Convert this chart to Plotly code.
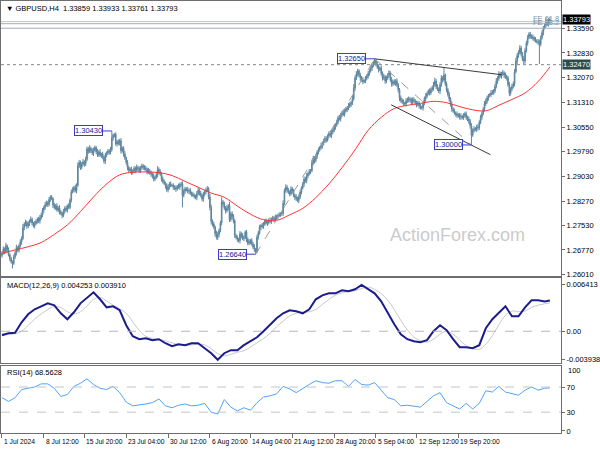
import plotly.graph_objects as go

# ---------------- data (prices in pips: price = 1 + pips/10000) ----------------
x_tick_labels = ["1 Jul 2024", "8 Jul 12:00", "15 Jul 20:00", "23 Jul 04:00", "30 Jul 12:00",
                 "6 Aug 20:00", "14 Aug 04:00", "21 Aug 12:00", "28 Aug 20:00", "5 Sep 04:00",
                 "12 Sep 12:00", "19 Sep 20:00"]
x_tick_bars = [0, 32, 63, 95, 127, 159, 190, 222, 254, 286, 317, 349]
price_ticks = [1.33590, 1.32830, 1.32070, 1.31310, 1.30550, 1.29790, 1.29030, 1.28270,
               1.27530, 1.26770, 1.26010]
rsi_ticks = [100, 70, 30, 0]

first_open_pips = 2660
close_pips = [
    2668, 2680, 2672, 2690, 2678, 2662, 2650, 2641, 2635, 2655,
    2668, 2684, 2676, 2690, 2702, 2712, 2745, 2756, 2762, 2750,
    2758, 2766, 2771, 2760, 2752, 2758, 2765, 2772, 2766, 2776,
    2784, 2800, 2808, 2816, 2822, 2817, 2832, 2840, 2835, 2815,
    2808, 2813, 2800, 2806, 2795, 2790, 2783, 2796, 2805, 2800,
    2812, 2808, 2830, 2856, 2862, 2869, 2860, 2876, 2936, 2946,
    2931, 2941, 2948, 2942, 2956, 2988, 2980, 2990, 2982, 2975,
    2985, 2992, 2980, 2970, 2978, 2968, 2972, 2962, 2950, 2968,
    2975, 2981, 2978, 2986, 3022, 3030, 3033, 3003, 3010, 3005,
    3013, 2982, 2990, 2972, 2960, 2946, 2931, 2921, 2925, 2916,
    2920, 2928, 2922, 2931, 2926, 2921, 2930, 2936, 2932, 2928,
    2926, 2916, 2920, 2914, 2911, 2905, 2895, 2900, 2908, 2925,
    2918, 2911, 2895, 2888, 2882, 2875, 2862, 2870, 2880, 2876,
    2875, 2870, 2868, 2865, 2872, 2870, 2878, 2880, 2845, 2858,
    2865, 2862, 2858, 2860, 2852, 2849, 2845, 2842, 2839, 2850,
    2860, 2852, 2845, 2834, 2848, 2856, 2862, 2865, 2840, 2808,
    2765, 2757, 2747, 2727, 2716, 2725, 2737, 2760, 2825, 2818,
    2805, 2798, 2806, 2813, 2770, 2788, 2780, 2767, 2721, 2715,
    2710, 2706, 2727, 2720, 2712, 2716, 2732, 2710, 2698, 2702,
    2706, 2695, 2686, 2678, 2672, 2716, 2730, 2747, 2752, 2750,
    2757, 2767, 2760, 2762, 2768, 2765, 2772, 2775, 2770, 2778,
    2780, 2783, 2786, 2788, 2790, 2820, 2860, 2870, 2862, 2855,
    2849, 2865, 2858, 2845, 2839, 2835, 2829, 2840, 2855, 2868,
    2880, 2895, 2890, 2905, 2912, 2918, 2921, 2945, 2960, 2952,
    2965, 2978, 2985, 2992, 2998, 3005, 3012, 3020, 3015, 3028,
    3035, 3030, 3040, 3044, 3055, 3062, 3070, 3084, 3080, 3092,
    3099, 3095, 3105, 3110, 3114, 3120, 3125, 3130, 3142, 3175,
    3206, 3218, 3228, 3215, 3206, 3200, 3195, 3197, 3205, 3212,
    3220, 3228, 3237, 3245, 3255, 3262, 3250, 3240, 3232, 3237,
    3220, 3206, 3210, 3197, 3205, 3215, 3222, 3200, 3188, 3195,
    3190, 3197, 3185, 3170, 3145, 3138, 3132, 3128, 3126, 3135,
    3140, 3142, 3138, 3130, 3140, 3136, 3130, 3125, 3128, 3120,
    3116, 3114, 3128, 3142, 3150, 3158, 3166, 3160, 3170, 3176,
    3185, 3197, 3180, 3172, 3166, 3185, 3206, 3200, 3215, 3188,
    3170, 3155, 3142, 3125, 3110, 3105, 3098, 3095, 3090, 3092,
    3086, 3088, 3084, 3090, 3096, 3085, 3080, 3074, 3060, 3030,
    3045, 3050, 3048, 3055, 3053, 3070, 3085, 3096, 3110, 3126,
    3135, 3145, 3151, 3155, 3160, 3162, 3166, 3180, 3197, 3205,
    3219, 3212, 3218, 3222, 3215, 3210, 3206, 3185, 3160, 3172,
    3180, 3188, 3225, 3258, 3275, 3285, 3298, 3280, 3265, 3258,
    3290, 3313, 3330, 3341, 3335, 3332, 3329, 3325, 3320, 3318,
    3315, 3310, 3330, 3345, 3360, 3368, 3381, 3372, 3386, 3379,
]
wick_up_pips = [
    6, 8, 5, 9, 4, 7, 5, 6, 4, 8, 7, 9, 5, 6, 8, 7, 12, 6, 8, 5,
    7, 5, 9, 6, 4, 8, 6, 5, 7, 9, 8, 6, 5, 9, 7, 6, 8, 5, 6, 4,
    7, 5, 8, 6, 9, 5, 4, 7, 6, 8, 5, 9, 6, 7, 8, 5, 9, 6, 10, 8,
    6, 7, 9, 5, 8, 7, 6, 9, 5, 8, 7, 6, 5, 8, 6, 9, 4, 7, 6, 8,
    5, 7, 6, 8, 21, 5, 3, 6, 5, 7, 6, 8, 5, 6, 9, 4, 7, 5, 6, 8,
    5, 7, 6, 9, 5, 8, 6, 7, 5, 6, 8, 5, 9, 6, 7, 5, 8, 6, 9, 10,
    6, 7, 5, 8, 6, 5, 7, 9, 6, 8, 5, 7, 6, 8, 5, 9, 6, 7, 8, 6,
    7, 5, 9, 6, 8, 5, 7, 6, 5, 8, 9, 6, 7, 5, 8, 6, 7, 9, 6, 10,
    8, 6, 7, 5, 9, 8, 6, 7, 14, 6, 8, 7, 9, 5, 12, 6, 8, 7, 5, 6,
    7, 5, 8, 6, 9, 6, 5, 7, 6, 8, 5, 7, 6, 9, 5, 8, 6, 7, 5, 8,
    6, 5, 7, 8, 6, 9, 5, 7, 6, 8, 5, 6, 7, 5, 8, 10, 6, 9, 7, 6,
    5, 8, 6, 7, 5, 9, 6, 8, 7, 5, 6, 8, 7, 9, 6, 8, 5, 10, 7, 6,
    8, 6, 7, 5, 9, 6, 7, 8, 6, 5, 7, 9, 6, 8, 7, 5, 8, 6, 9, 7,
    6, 8, 5, 7, 6, 9, 8, 6, 10, 12, 8, 9, 6, 5, 7, 6, 8, 5, 7, 6,
    8, 6, 7, 5, 4, 3, 2, 6, 8, 5, 7, 6, 9, 5, 8, 6, 7, 5, 9, 6,
    7, 5, 8, 6, 5, 7, 6, 8, 5, 9, 6, 7, 5, 8, 6, 7, 5, 6, 8, 7,
    6, 5, 8, 7, 9, 6, 5, 8, 7, 6, 9, 10, 6, 7, 5, 8, 9, 6, 25, 5,
    7, 6, 8, 5, 9, 6, 7, 5, 8, 6, 7, 9, 5, 8, 6, 7, 5, 8, 6, 7,
    6, 8, 5, 7, 9, 6, 8, 7, 6, 9, 8, 7, 6, 5, 9, 7, 6, 8, 9, 7,
    8, 6, 7, 9, 5, 8, 6, 7, 9, 6, 8, 7, 9, 10, 8, 6, 9, 7, 6, 8,
    9, 7, 8, 6, 7, 5, 8, 6, 7, 5, 8, 9, 7, 8, 6, 7, 10, 6, 5, 7,
]
wick_dn_pips = [
    7, 5, 8, 6, 9, 5, 7, 6, 15, 4, 6, 8, 5, 7, 6, 9, 5, 7, 6, 8,
    6, 7, 5, 8, 6, 9, 5, 7, 6, 8, 5, 6, 9, 7, 5, 8, 6, 7, 5, 9,
    6, 8, 5, 7, 9, 6, 8, 5, 7, 6, 8, 5, 6, 7, 5, 8, 6, 9, 5, 7,
    8, 6, 5, 9, 7, 6, 8, 5, 7, 6, 9, 5, 8, 7, 6, 5, 8, 6, 7, 9,
    6, 5, 8, 7, 6, 9, 7, 5, 8, 6, 7, 9, 5, 8, 6, 7, 9, 6, 5, 8,
    7, 6, 9, 5, 8, 6, 7, 5, 9, 6, 8, 7, 5, 6, 9, 8, 7, 6, 5, 8,
    9, 6, 8, 7, 5, 9, 6, 8, 7, 6, 5, 8, 7, 9, 6, 5, 8, 7, 37, 6,
    8, 5, 7, 9, 6, 8, 5, 7, 6, 9, 5, 8, 6, 7, 9, 6, 8, 5, 7, 9,
    10, 8, 6, 9, 7, 8, 9, 6, 7, 8, 5, 9, 6, 8, 7, 6, 9, 8, 7, 6,
    8, 6, 9, 7, 5, 8, 6, 9, 7, 6, 8, 5, 6, 7, 8, 5, 7, 6, 9, 7,
    8, 6, 5, 9, 7, 6, 8, 5, 7, 6, 9, 8, 5, 7, 6, 8, 5, 7, 9, 6,
    7, 5, 8, 6, 9, 7, 5, 8, 6, 7, 5, 9, 6, 8, 7, 6, 8, 5, 7, 9,
    6, 8, 7, 5, 6, 9, 7, 6, 8, 5, 7, 6, 9, 7, 5, 8, 6, 7, 5, 8,
    7, 6, 8, 5, 9, 7, 6, 8, 7, 5, 9, 6, 8, 7, 9, 6, 8, 5, 7, 6,
    8, 7, 5, 9, 6, 7, 8, 6, 9, 5, 7, 8, 6, 9, 7, 5, 8, 6, 9, 7,
    6, 8, 7, 9, 10, 8, 6, 7, 5, 8, 6, 9, 7, 5, 8, 6, 7, 9, 6, 8,
    7, 5, 8, 6, 9, 7, 5, 8, 6, 7, 9, 5, 8, 6, 7, 9, 6, 8, 5, 7,
    8, 6, 9, 7, 8, 6, 5, 8, 7, 6, 8, 9, 5, 7, 6, 8, 7, 9, 10, 30,
    5, 7, 6, 8, 9, 7, 6, 8, 5, 7, 6, 8, 9, 5, 7, 6, 8, 7, 6, 9,
    7, 6, 8, 5, 9, 7, 8, 6, 10, 8, 7, 6, 8, 5, 9, 7, 6, 8, 7, 9,
    8, 6, 7, 5, 9, 6, 8, 7, 5, 6, 8, 61, 7, 6, 8, 5, 7, 6, 8, 3,
]

# moving average (red), read every 10 bars
ma_bars = list(range(0, 420, 10)) + [419]
ma_pips = [2667, 2677, 2687, 2700, 2725, 2754, 2795, 2840, 2880, 2908, 2916, 2917, 2915,
           2906, 2888, 2870, 2852, 2839, 2812, 2787, 2770, 2768, 2785, 2805, 2838, 2880,
           2930, 2985, 3045, 3085, 3112, 3122, 3128, 3134, 3130, 3118, 3108, 3105, 3122,
           3140, 3160, 3195, 3240]

# indicators, read every 5 bars
ind_bars = list(range(0, 420, 5)) + [419]
macd_vals = [-0.00055, -0.00028, -0.00020, 0.00124, 0.00235, 0.00304, 0.00345, 0.00386, 0.00359, 0.00248,
             0.00166, 0.00262, 0.00386, 0.00469, 0.00538, 0.00442, 0.00331, 0.00345, 0.00290, 0.00083,
             -0.00069, -0.00110, -0.00097, -0.00124, -0.00110, -0.00166, -0.00207, -0.00179, -0.00193, -0.00166,
             -0.00166, -0.00235, -0.00304, -0.00394, -0.00304, -0.00262, -0.00262, -0.00193, -0.00138, -0.00083,
             0.00000, 0.00097, 0.00179, 0.00248, 0.00290, 0.00276, 0.00248, 0.00304, 0.00442, 0.00497,
             0.00524, 0.00524, 0.00566, 0.00552, 0.00580, 0.00641, 0.00580, 0.00524, 0.00414, 0.00248,
             0.00097, -0.00041, -0.00110, -0.00138, -0.00152, -0.00124, 0.00000, 0.00083, 0.00014, -0.00110,
             -0.00221, -0.00221, -0.00235, -0.00193, 0.00041, 0.00166, 0.00262, 0.00345, 0.00207, 0.00207,
             0.00331, 0.00428, 0.00428, 0.00410, 0.004253]
signal_vals = [-0.00030, -0.00040, -0.00035, 0.00000, 0.00080, 0.00170, 0.00240, 0.00300, 0.00340, 0.00330,
               0.00270, 0.00240, 0.00270, 0.00350, 0.00440, 0.00470, 0.00420, 0.00360, 0.00310, 0.00250,
               0.00130, 0.00010, -0.00070, -0.00100, -0.00115, -0.00130, -0.00160, -0.00185, -0.00190, -0.00190,
               -0.00180, -0.00190, -0.00240, -0.00310, -0.00340, -0.00320, -0.00290, -0.00270, -0.00220, -0.00160,
               -0.00100, -0.00030, 0.00060, 0.00140, 0.00210, 0.00250, 0.00265, 0.00270, 0.00300, 0.00370,
               0.00440, 0.00500, 0.00530, 0.00550, 0.00560, 0.00590, 0.00610, 0.00580, 0.00520, 0.00430,
               0.00300, 0.00150, 0.00020, -0.00080, -0.00130, -0.00150, -0.00110, -0.00040, 0.00000, -0.00040,
               -0.00120, -0.00200, -0.00240, -0.00250, -0.00180, -0.00060, 0.00090, 0.00220, 0.00280, 0.00270,
               0.00280, 0.00330, 0.00360, 0.00380, 0.00391]
rsi_vals = [53, 47, 53, 66, 68, 70, 75, 75, 68, 55,
            58, 71, 76, 83, 74, 68, 66, 71, 61, 46,
            40, 41, 43, 45, 51, 40, 37, 41, 43, 40,
            41, 44, 30, 27, 50, 38, 32, 37, 33, 45,
            54, 56, 59, 71, 67, 61, 68, 74, 80, 77,
            76, 80, 80, 71, 82, 74, 73, 77, 65, 53,
            50, 40, 41, 40, 38, 47, 56, 61, 45, 40,
            35, 44, 35, 44, 64, 62, 71, 62, 59, 57,
            65, 70, 65, 68, 68.5628]

# swing labels (bar, price) and drawn lines
swing_labels = [(84, 1.30430), (194, 1.26640), (285, 1.32650), (359, 1.30000)]
trend_lines = [(285, 1.32650, 382, 1.32160), (297.6, 1.31235, 373.6, 1.29700)]
fibo_lines = [(194, 1.26640, 285, 1.32650), (285, 1.32650, 359, 1.30000)]
bid_price = 1.33793
fe_levels = [("FE 61.8", 1.33730), ("FE 38.2", 1.33590)]
support_level = 1.32470
title_text = "▼ GBPUSD,H4  1.33859 1.33933 1.33761 1.33793"
macd_text = "MACD(12,26,9) 0.004253 0.003910"
rsi_text = "RSI(14) 68.5628"

# ---------------- build ----------------
closes = [1 + v / 10000 for v in close_pips]
opens = [1 + first_open_pips / 10000] + closes[:-1]
highs = [max(o, c) + u / 10000 for o, c, u in zip(opens, closes, wick_up_pips)]
lows = [min(o, c) - d / 10000 for o, c, d in zip(opens, closes, wick_dn_pips)]
bars = list(range(len(closes)))
ma = [1 + v / 10000 for v in ma_pips]

FONT = "Liberation Sans, Arial, sans-serif"
CANDLE = "#5d86a0"
FRAME = "#6e6e6e"

xr = [-0.76, 427.5]

fig = go.Figure()
fig.add_trace(go.Candlestick(
    x=bars, open=opens, high=highs, low=lows, close=closes,
    increasing=dict(line=dict(color=CANDLE, width=1), fillcolor=CANDLE),
    decreasing=dict(line=dict(color=CANDLE, width=1), fillcolor=CANDLE),
    whiskerwidth=0, xaxis="x", yaxis="y", hoverinfo="skip"))
fig.add_trace(go.Scatter(x=ma_bars, y=ma, mode="lines", line=dict(color="#ff3333", width=1, shape="spline"),
                         xaxis="x", yaxis="y", hoverinfo="skip"))
fig.add_trace(go.Scatter(x=ind_bars, y=signal_vals, mode="lines", line=dict(color="#c8c8c8", width=1, shape="spline"),
                         xaxis="x2", yaxis="y2", hoverinfo="skip"))
fig.add_trace(go.Scatter(x=ind_bars, y=macd_vals, mode="lines", line=dict(color="#1c1c8e", width=2),
                         xaxis="x2", yaxis="y2", hoverinfo="skip"))
fig.add_trace(go.Scatter(x=ind_bars, y=rsi_vals, mode="lines", line=dict(color="#4fa3f7", width=1),
                         xaxis="x3", yaxis="y3", hoverinfo="skip"))

H = 433.0
def pf(px):
    return 1 - px / H

axis_common = dict(showgrid=False, zeroline=False, showline=True, mirror=True, linecolor=FRAME, linewidth=1)
fig.update_layout(
    width=600, height=450, showlegend=False,
    margin=dict(l=1, r=35, t=0, b=17),
    paper_bgcolor="white", plot_bgcolor="white",
    font=dict(family=FONT, size=8, color="black"),
    xaxis=dict(domain=[0, 1], range=xr, anchor="y", showticklabels=False, rangeslider=dict(visible=False), **axis_common),
    xaxis2=dict(domain=[0, 1], range=xr, anchor="y2", matches="x", showticklabels=False, **axis_common),
    xaxis3=dict(domain=[0, 1], range=xr, anchor="y3", matches="x", showticklabels=False,
                ticks="outside", ticklen=4, tickcolor=FRAME, tickvals=x_tick_bars, **axis_common),
    yaxis=dict(domain=[pf(276), 1], range=[1.25958, 1.34428], side="right", anchor="x",
               tickvals=price_ticks, ticktext=[f"{v:.5f}" for v in price_ticks],
               ticks="outside", ticklen=3, tickcolor=FRAME, tickfont=dict(size=7.5), **axis_common),
    yaxis2=dict(domain=[pf(363), pf(278)], range=[-0.004416, 0.007314], side="right", anchor="x2",
                tickvals=[0.006413, 0.0, -0.003938], ticktext=["0.006413", "0.00", "-0.003938"],
                ticks="outside", ticklen=3, tickcolor=FRAME, tickfont=dict(size=7.5), **axis_common),
    yaxis3=dict(domain=[0, pf(366)], range=[-3.2, 103.2], side="right", anchor="x3",
                tickvals=rsi_ticks[1:], ticktext=[str(v) for v in rsi_ticks[1:]],
                ticks="outside", ticklen=3, tickcolor=FRAME, tickfont=dict(size=7.5), **axis_common),
)

shapes = []
shapes.append(dict(type="line", xref="paper", x0=0, x1=1, yref="y", y0=bid_price, y1=bid_price,
                   line=dict(color="#c4c4c4", width=1)))
for _, lvl in fe_levels:
    shapes.append(dict(type="line", xref="paper", x0=0, x1=1, yref="y", y0=lvl, y1=lvl,
                       line=dict(color="#9fadb8", width=1)))
shapes.append(dict(type="line", xref="paper", x0=0, x1=1, yref="y", y0=support_level, y1=support_level,
                   line=dict(color="#7f8a8a", width=1, dash="dot")))
for b0, p0, b1, p1 in trend_lines:
    shapes.append(dict(type="line", xref="x", yref="y", x0=b0, y0=p0, x1=b1, y1=p1,
                       line=dict(color="#3a3a3a", width=1)))
for b0, p0, b1, p1 in fibo_lines:
    shapes.append(dict(type="line", xref="x", yref="y", x0=b0, y0=p0, x1=b1, y1=p1,
                       line=dict(color="#9a9a9a", width=1, dash="dash")))
shapes.append(dict(type="line", xref="x2 domain", x0=0, x1=1, yref="y2", y0=0, y1=0,
                   line=dict(color="#b8b8b8", width=1, dash="dash")))
for lvl in (70, 30):
    shapes.append(dict(type="line", xref="x3 domain", x0=0, x1=1, yref="y3", y0=lvl, y1=lvl,
                       line=dict(color="#c4c4c4", width=1, dash="dash")))
fig.update_layout(shapes=shapes)

ann = []
ann.append(dict(text=title_text, xref="paper", yref="paper", x=(4 - 1) / 564, y=pf(7.5),
                xanchor="left", yanchor="middle", showarrow=False, font=dict(size=7.5, color="black")))
ann.append(dict(text=macd_text, xref="paper", yref="paper", x=(5 - 1) / 564, y=pf(285),
                xanchor="left", yanchor="middle", showarrow=False, font=dict(size=7.5, color="black")))
ann.append(dict(text=rsi_text, xref="paper", yref="paper", x=(5 - 1) / 564, y=pf(372),
                xanchor="left", yanchor="middle", showarrow=False, font=dict(size=7.5, color="black")))
ann.append(dict(text="ActionForex.com", xref="paper", yref="paper", x=(461 - 1) / 564, y=pf(234.5),
                xanchor="center", yanchor="middle", showarrow=False,
                font=dict(size=18, color="#cbcbcb", family=FONT)))
for name, lvl in fe_levels:
    ann.append(dict(text=name, xref="paper", yref="y", x=1, y=lvl, xanchor="right", yanchor="bottom",
                    showarrow=False, font=dict(size=7.5, color="#7d93a3"), yshift=-1))
for b, p in swing_labels:
    ann.append(dict(text=f"{p:.5f}", x=b, y=p, xref="x", yref="y", showarrow=True, arrowhead=0,
                    arrowwidth=1, arrowcolor="#3c3cc8", ax=-23, ay=0, standoff=0,
                    font=dict(size=7.5, color="#1a1a8c"), bordercolor="#3c3cc8", borderwidth=1,
                    borderpad=0, bgcolor="white"))
ann.append(dict(text=f"{bid_price:.5f}", xref="paper", yref="y", x=1, y=bid_price, xanchor="left",
                yanchor="middle", xshift=1, yshift=2.5, showarrow=False, bgcolor="black", borderpad=0,
                font=dict(size=7.5, color="white")))
ann.append(dict(text=f"{support_level:.5f}", xref="paper", yref="y", x=1, y=support_level, xanchor="left",
                yanchor="middle", xshift=1, showarrow=False, bgcolor="#2f4a4a", borderpad=0,
                font=dict(size=7.5, color="white")))
# top RSI scale label ("100"), placed where the reference shows it, just inside the RSI panel
ann.append(dict(text=str(rsi_ticks[0]), xref="paper", yref="paper", x=1, y=pf(370), xanchor="left",
                yanchor="middle", xshift=5, showarrow=False, bgcolor="white",
                font=dict(size=7.5, color="black", family=FONT)))
for b, lab in zip(x_tick_bars, x_tick_labels):
    ann.append(dict(text=lab, x=b, xref="x3", y=0, yref="paper", xanchor="left", yanchor="top",
                    yshift=-3, showarrow=False, font=dict(size=6.7, color="black")))
fig.update_layout(annotations=ann)

fig.write_html("out.html", config={"displayModeBar": False},
               post_script="document.body.style.margin='0';document.body.style.padding='0';")
